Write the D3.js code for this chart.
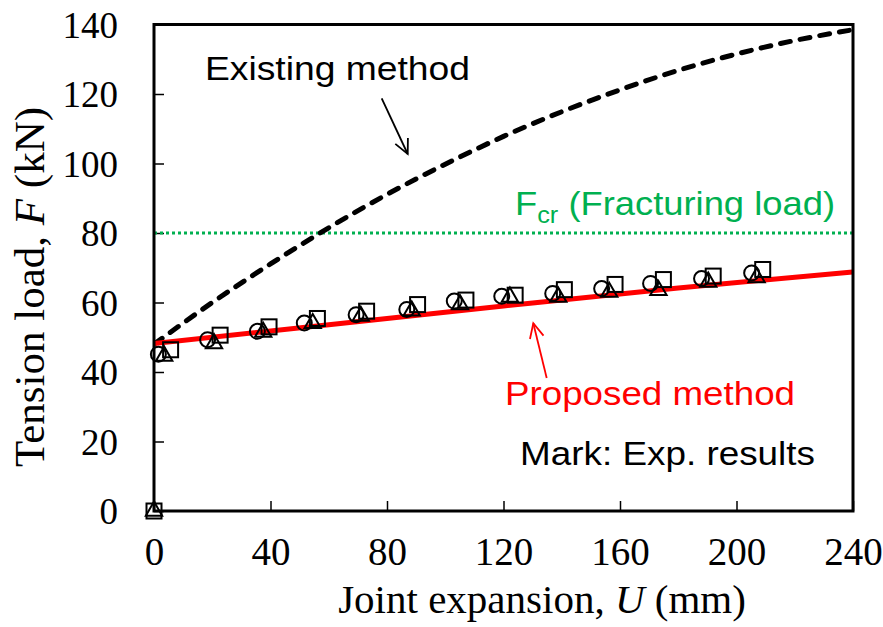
<!DOCTYPE html>
<html>
<head>
<meta charset="utf-8">
<script src="https://cdn.jsdelivr.net/npm/d3@7"></script>
<style>
  html, body { margin: 0; padding: 0; background: #fff; }
  svg { display: block; }
</style>
</head>
<body>
<svg id="chart" width="883" height="627"></svg>
<script>
// Axis ticks
const xTicks = [0, 40, 80, 120, 160, 200, 240];
const yTicks = [0, 20, 40, 60, 80, 100, 120, 140];

// Existing method (dashed curve): joint expansion U (mm) vs load F (kN)
const existingU = [0, 20, 40, 60, 80, 100, 120, 140, 160, 180, 200, 220, 240];
const existingF = [48, 60.0, 71.1, 81.5, 91.1, 99.8, 107.8, 114.9, 121.2, 126.8, 131.5, 135.4, 138.5];

// Proposed method (red line)
const proposedU = [0, 60, 120, 180, 240];
const proposedF = [48.2, 53.6, 59.0, 64.2, 68.8];

// Fracturing load
const fractureLoad = 80;

// Experimental results, three specimens
const circleU = [1.5, 18.4, 35.5, 51.6, 69.4, 86.8, 103.1, 119.4, 136.9, 153.7, 170.5, 188.0, 205.2];
const circleF = [45.1, 49.3, 51.7, 54.1, 56.5, 58.0, 60.4, 61.8, 62.6, 64.0, 65.5, 66.9, 68.5];
const triangleU = [0, 3.5, 20.6, 37.5, 54.5, 71.0, 88.5, 105.1, 122.2, 138.8, 156.3, 173.2, 190.3, 206.9];
const triangleF = [0, 44.6, 48.2, 51.5, 54.0, 56.1, 57.6, 59.4, 61.6, 61.6, 63.0, 63.5, 65.9, 67.2];
const squareU = [0, 5.7, 22.7, 39.5, 56.1, 73.0, 90.5, 107.1, 124.0, 140.9, 158.3, 174.9, 192.0, 209.0];
const squareF = [0, 46.4, 50.6, 53.0, 55.4, 57.5, 59.4, 60.7, 62.1, 63.7, 65.2, 66.6, 67.6, 69.5];

const svg = d3.select("#chart");
const margin = { left: 154, right: 30, top: 24.5, bottom: 116 };
const W = 883, H = 627;
const x = d3.scaleLinear().domain([0, 240]).range([margin.left, W - margin.right]);
const y = d3.scaleLinear().domain([0, 140]).range([H - margin.bottom, margin.top]);

const serif = "'Liberation Serif', 'Times New Roman', serif";
const sans = "'Liberation Sans', Arial, sans-serif";

// Clip for curves
svg.append("defs").append("clipPath").attr("id", "plotClip")
  .append("rect")
  .attr("x", x(0)).attr("y", y(140))
  .attr("width", x(240) - x(0)).attr("height", y(0) - y(140));

// Axes with inward ticks
const xAxis = svg.append("g").attr("transform", `translate(0,${y(0)})`)
  .call(d3.axisBottom(x).tickValues(xTicks).tickSizeInner(-10).tickSizeOuter(0).tickPadding(26));
const yAxis = svg.append("g").attr("transform", `translate(${x(0)},0)`)
  .call(d3.axisLeft(y).tickValues(yTicks).tickSizeInner(-10).tickSizeOuter(0).tickPadding(36));

[xAxis, yAxis].forEach(g => {
  g.select(".domain").remove();
  g.selectAll(".tick line").attr("stroke", "#000").attr("stroke-width", 1.5);
  g.selectAll(".tick text").attr("fill", "#000")
    .style("font-family", serif).style("font-size", "37px");
});
xAxis.selectAll(".tick text").attr("dy", "0.71em").style("font-size", "39px");
yAxis.selectAll(".tick text").attr("dy", "0.35em");

// Fracturing load line
svg.append("line")
  .attr("x1", x(0)).attr("x2", x(240))
  .attr("y1", y(fractureLoad)).attr("y2", y(fractureLoad))
  .attr("stroke", "#00b050").attr("stroke-width", 3)
  .attr("stroke-dasharray", "3,3");

const line = d3.line().x(d => x(d[0])).y(d => y(d[1])).curve(d3.curveMonotoneX);

// Existing method
svg.append("path")
  .datum(existingU.map((u, i) => [u, existingF[i]]))
  .attr("clip-path", "url(#plotClip)")
  .attr("d", line)
  .attr("fill", "none").attr("stroke", "#000").attr("stroke-width", 5)
  .attr("stroke-linecap", "round")
  .attr("stroke-dasharray", "10,10");

// Proposed method
svg.append("path")
  .datum(proposedU.map((u, i) => [u, proposedF[i]]))
  .attr("clip-path", "url(#plotClip)")
  .attr("d", line)
  .attr("fill", "none").attr("stroke", "#ff0000").attr("stroke-width", 5);

// Experimental markers
const mk = svg.append("g").attr("fill", "none").attr("stroke", "#000").attr("stroke-width", 2);
mk.selectAll("circle.c").data(circleU.map((u, i) => [u, circleF[i]])).join("circle")
  .attr("cx", d => x(d[0])).attr("cy", d => y(d[1])).attr("r", 7.5);
const triSym = d3.symbol().type(d3.symbolTriangle).size(115);
mk.selectAll("path.t").data(triangleU.map((u, i) => [u, triangleF[i]])).join("path")
  .attr("transform", d => `translate(${x(d[0])},${y(d[1])})`).attr("d", triSym());
mk.selectAll("rect.s").data(squareU.map((u, i) => [u, squareF[i]])).join("rect")
  .attr("x", d => x(d[0]) - 7.5).attr("y", d => y(d[1]) - 7.5)
  .attr("width", 15).attr("height", 15);

// Plot frame
svg.append("rect")
  .attr("x", x(0)).attr("y", y(140))
  .attr("width", x(240) - x(0)).attr("height", y(0) - y(140))
  .attr("fill", "none").attr("stroke", "#000").attr("stroke-width", 3);

// Axis titles
const xt = svg.append("text").attr("x", 542).attr("y", 613)
  .attr("text-anchor", "middle").style("font-family", serif).style("font-size", "41px");
xt.append("tspan").text("Joint expansion, ");
xt.append("tspan").style("font-style", "italic").text("U");
xt.append("tspan").text(" (mm)");

const yt = svg.append("text")
  .attr("transform", `translate(44,287) rotate(-90)`)
  .attr("text-anchor", "middle").style("font-family", serif).style("font-size", "43px");
yt.append("tspan").text("Tension load, ");
yt.append("tspan").style("font-style", "italic").text("F");
yt.append("tspan").text(" (kN)");

// Annotations
function arrow(x1, y1, x2, y2, color) {
  const a = Math.atan2(y2 - y1, x2 - x1), L = 16, s = 0.45;
  const g = svg.append("g").attr("stroke", color).attr("stroke-width", 1.8).attr("fill", "none");
  g.append("line").attr("x1", x1).attr("y1", y1).attr("x2", x2).attr("y2", y2);
  g.append("path").attr("d",
    `M${x2 - L * Math.cos(a - s)},${y2 - L * Math.sin(a - s)}L${x2},${y2}L${x2 - L * Math.cos(a + s)},${y2 - L * Math.sin(a + s)}`);
}

svg.append("text").attr("x", 205).attr("y", 80)
  .attr("textLength", 265).attr("lengthAdjust", "spacingAndGlyphs")
  .style("font-family", sans).style("font-size", "34px").text("Existing method");
arrow(381.7, 98.3, 407.7, 154, "#000");

const fc = svg.append("text").attr("x", 515).attr("y", 215).attr("fill", "#00b050")
  .attr("textLength", 320).attr("lengthAdjust", "spacingAndGlyphs")
  .style("font-family", sans).style("font-size", "33px");
fc.append("tspan").text("F");
fc.append("tspan").attr("dy", 8).style("font-size", "23px").text("cr");
fc.append("tspan").attr("dy", -8).text(" (Fracturing load)");

svg.append("text").attr("x", 505).attr("y", 405).attr("fill", "#ff0000")
  .attr("textLength", 290).attr("lengthAdjust", "spacingAndGlyphs")
  .style("font-family", sans).style("font-size", "33px").text("Proposed method");
arrow(546.7, 378, 533.3, 323.3, "#ff0000");

svg.append("text").attr("x", 520).attr("y", 465)
  .attr("textLength", 295).attr("lengthAdjust", "spacingAndGlyphs")
  .style("font-family", sans).style("font-size", "34px").text("Mark: Exp. results");
</script>
</body>
</html>
